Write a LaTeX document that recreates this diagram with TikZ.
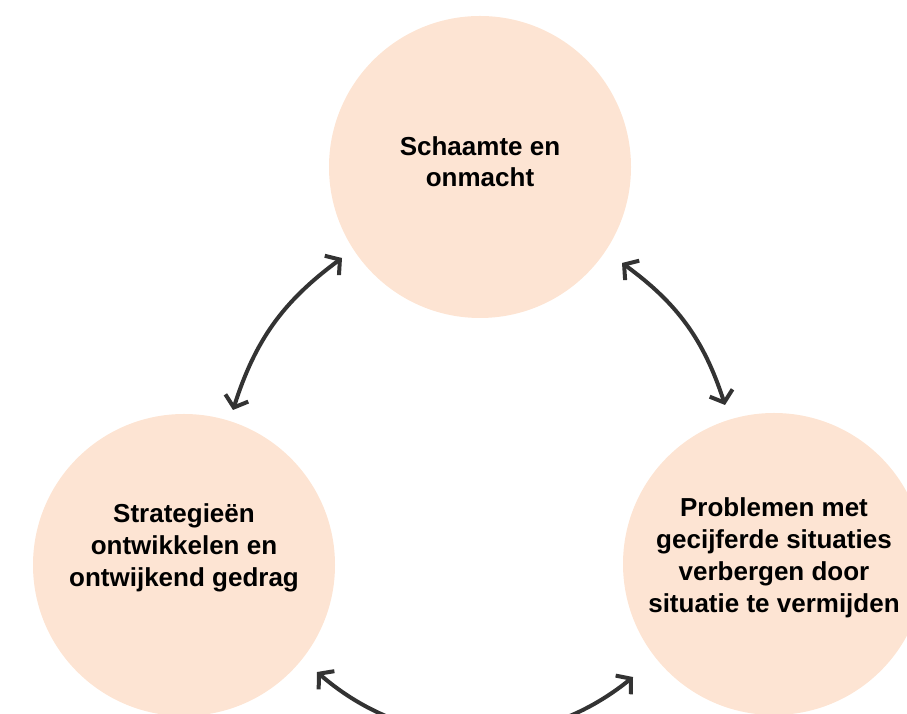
\documentclass[tikz,border=0pt]{standalone}
\usepackage{fontspec}
\setmainfont{Liberation Sans}
\usetikzlibrary{arrows.meta}
\definecolor{peach}{HTML}{FDE4D3}
\definecolor{arrowgray}{HTML}{333333}
\tikzset{
  bubble/.style={circle, fill=peach, draw=none, minimum size=302pt, inner sep=0pt},
  label text/.style={align=center, font=\fontsize{26}{32}\selectfont\bfseries, text=black},
  cyclearrow/.style={draw=arrowgray, line width=4pt,
    {Straight Barb[length=10pt,width=24pt,line width=4pt]}-{Straight Barb[length=10pt,width=24pt,line width=4pt]}}
}
\begin{document}
\begin{tikzpicture}[x=1pt,y=1pt]
\useasboundingbox (0,0) rectangle (907,714);
\clip (0,0) rectangle (907,714);
\node[bubble] (c1) at (480,547) {};
\node[bubble] (c2) at (184,149) {};
\node[bubble] (c3) at (774,150) {};
\node[label text, font=\fontsize{26}{31}\selectfont\bfseries] (t1) at (480,552) {Schaamte en\\onmacht};
\node[label text] (t2) at (184,166) {Strategieën\\ontwikkelen en\\ontwijkend gedrag};
\node[label text] (t3) at (774,156) {Problemen met\\gecijferde situaties\\verbergen door\\situatie te vermijden};
\coordinate (a1) at (233,304);
\coordinate (a2) at (342,456);
\coordinate (b1) at (622,451);
\coordinate (b2) at (725,309);
\coordinate (d1) at (317,42);
\coordinate (d2) at (633,37);
\draw[cyclearrow] (a1) to[bend left=18] (a2);
\draw[cyclearrow] (b1) to[bend left=18] (b2);
\draw[cyclearrow] (d1) to[bend right=40] (d2);
\end{tikzpicture}
\end{document}
